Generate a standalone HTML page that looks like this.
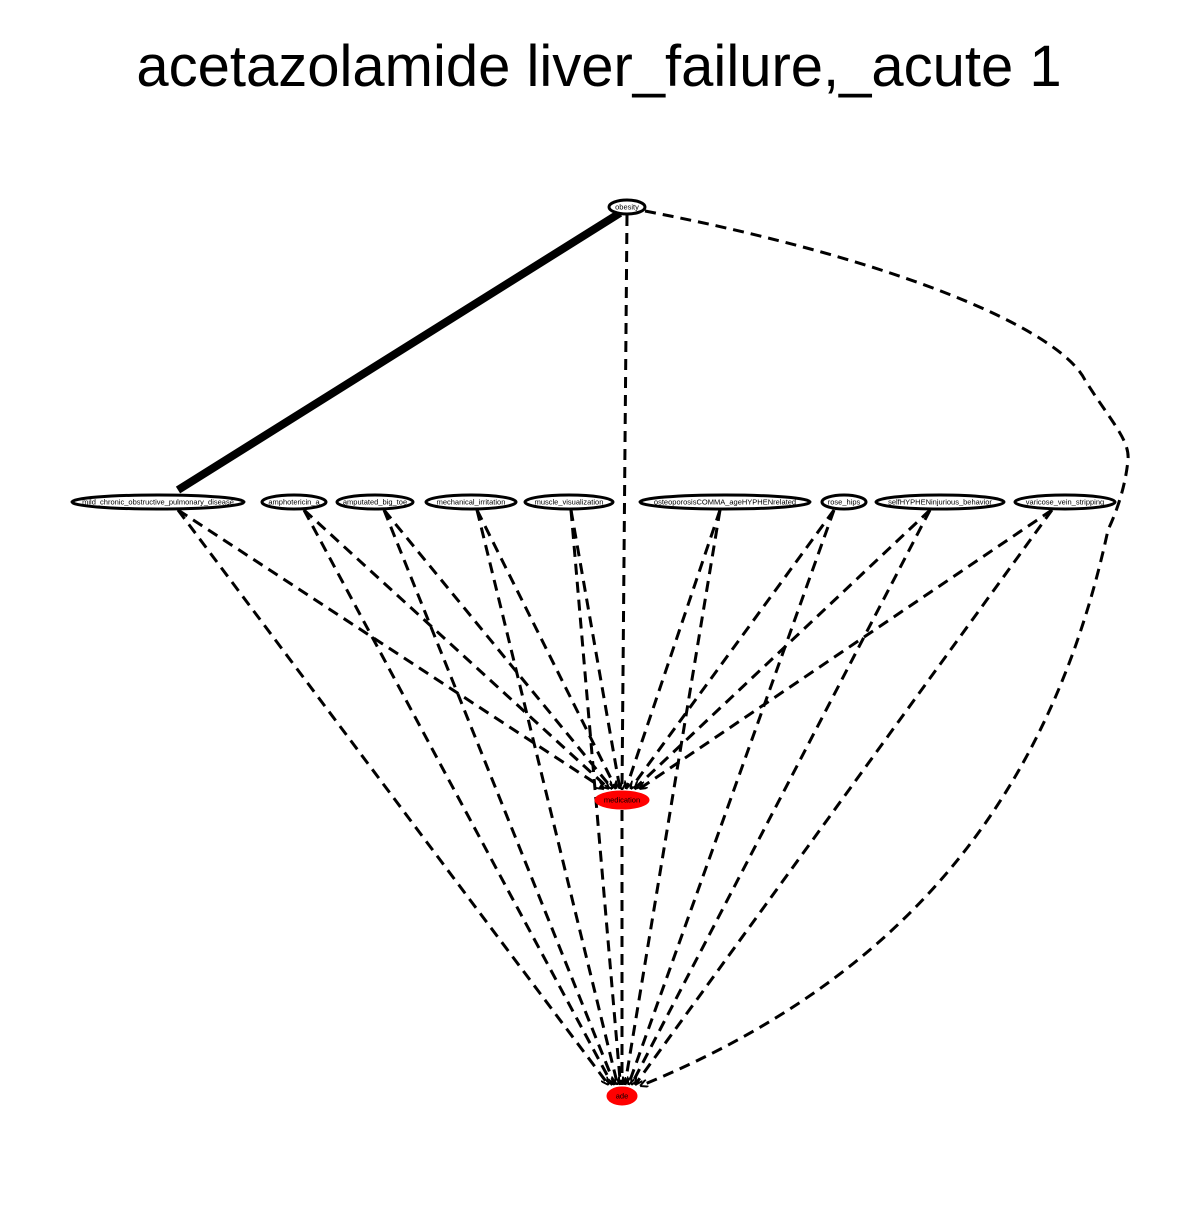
<!DOCTYPE html>
<html><head><meta charset="utf-8"><style>
html,body{margin:0;padding:0;background:#fff;}
svg text{font-family:"Liberation Sans",Arial,sans-serif;}
</style></head><body>
<svg id="chart" width="1200" height="1200" viewBox="0 0 1200 1200" xmlns="http://www.w3.org/2000/svg">
<defs>
<marker id="arr" viewBox="0 0 10 10" refX="10" refY="5" markerWidth="8" markerHeight="8" orient="auto" markerUnits="userSpaceOnUse">
<path d="M0,0 L10,5 L0,10" fill="none" stroke="#000" stroke-width="2.5"/>
</marker>
</defs>
<rect width="1200" height="1200" fill="#fff"/>
<text x="599" y="86" font-size="58" text-anchor="middle" fill="#000">acetazolamide liver_failure,_acute 1</text>
<g id="edges"></g>
<g id="nodes"></g>
</svg>
<script>
const nodeNames = ["obesity","mild_chronic_obstructive_pulmonary_disease","amphotericin_a","amputated_big_toe","mechanical_irritation","muscle_visualization","osteoporosisCOMMA_ageHYPHENrelated","rose_hips","selfHYPHENinjurious_behavior","varicose_vein_stripping","medication","ade"];
const nodeX = [627,158,294,375,471,569,725,844,940,1065,622,622];
const nodeY = [207,502,502,502,502,502,502,502,502,502,800,1096];
const nodeRx = [18,86,32,38,45,44,85,22,64,50,27,15];
const nodeRy = [7,7,7,7,7,7,7,7,7,7,9,9];
const nodeRed = [0,0,0,0,0,0,0,0,0,0,1,1];
const edgeStartX = [178,304,384,477,571,720,834,930,1052];
const NS="http://www.w3.org/2000/svg";
const eg=document.getElementById('edges'), ng=document.getElementById('nodes');
function line(x1,y1,x2,y2,dash,w,arrow,name){
  const l=document.createElementNS(NS,'line');
  l.setAttribute('x1',x1);l.setAttribute('y1',y1);l.setAttribute('x2',x2);l.setAttribute('y2',y2);
  l.setAttribute('stroke','#000');l.setAttribute('stroke-width',w);
  if(dash)l.setAttribute('stroke-dasharray','11,7');
  if(arrow)l.setAttribute('marker-end','url(#arr)');
  
  
  eg.appendChild(l);
}
line(620,213,178,490,false,8,false,'edge-obesity-mild-copd');
line(627,215,622,790,true,3,true,'edge-obesity-medication');
const p=document.createElementNS(NS,'path');
p.setAttribute('d','M645,211 C900,260 1060,330 1085,380 C1110,420 1130,440 1128,460 C1125,490 1115,515 1108,530 C1050,800 900,980 640,1086');
p.setAttribute('fill','none');p.setAttribute('stroke','#000');p.setAttribute('stroke-width','3');
p.setAttribute('stroke-dasharray','11,7');p.setAttribute('marker-end','url(#arr)');


eg.appendChild(p);
for(let i=1;i<=9;i++){
  const sx=edgeStartX[i-1], sy=510;
  const mx=nodeX[10]+(sx-nodeX[10])*0.04, ax=nodeX[11]+(sx-nodeX[11])*0.03;
  line(sx,sy,mx,789,true,3,true,'edge-'+nodeNames[i]+'-medication');
  line(sx,sy,ax,1085,true,3,true,'edge-'+nodeNames[i]+'-ade');
}
line(622,810,622,1085,true,3,true,'edge-medication-ade');
for(let i=0;i<nodeNames.length;i++){
  const g=document.createElementNS(NS,'g');
  
  
  const e=document.createElementNS(NS,'ellipse');
  e.setAttribute('cx',nodeX[i]);e.setAttribute('cy',nodeY[i]);
  e.setAttribute('rx',nodeRx[i]);e.setAttribute('ry',nodeRy[i]);
  if(nodeRed[i]){e.setAttribute('fill','#ff0000');e.setAttribute('stroke','#ff0000');}
  else{e.setAttribute('fill','#fff');e.setAttribute('stroke','#000');e.setAttribute('stroke-width','3');}
  g.appendChild(e);
  const t=document.createElementNS(NS,'text');
  t.setAttribute('x',nodeX[i]);t.setAttribute('y',nodeY[i]+2.5);
  t.setAttribute('font-size','7.5');t.setAttribute('text-anchor','middle');
  t.textContent=nodeNames[i];
  g.appendChild(t);
  ng.appendChild(g);
}
</script>
</body></html>
